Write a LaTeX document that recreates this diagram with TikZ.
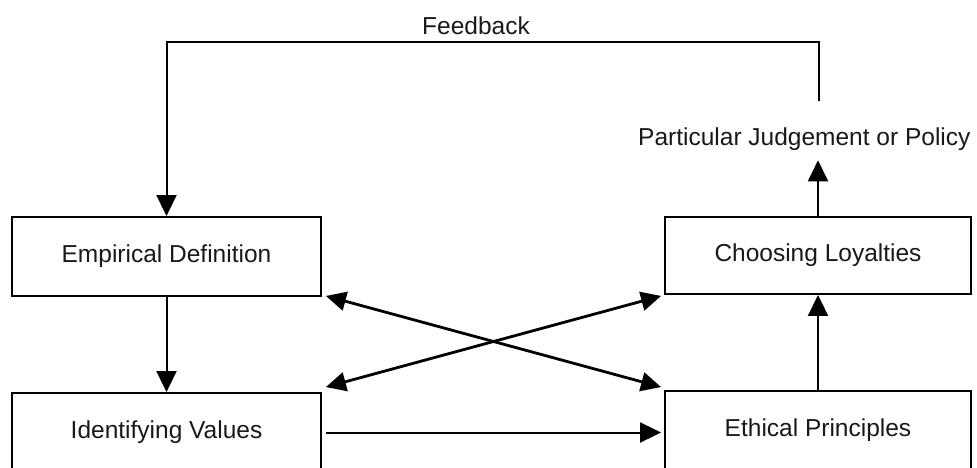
\documentclass[tikz,border=0pt]{standalone}
\usepackage{fontspec}
\setmainfont{Liberation Sans}
\usetikzlibrary{arrows.meta}
\begin{document}
\begin{tikzpicture}[x=1pt,y=-1pt,
  lbl/.style={font=\fontsize{24.5}{29}\selectfont, text=black!90},
  box/.style={draw, line width=1.9pt, inner sep=0pt, lbl},
  conn/.style={line width=2pt},
  tip/.style={-{Triangle[length=21pt,width=20pt]}},
  cross/.style={line width=2.8pt, {Triangle[length=20pt,width=19pt]}-{Triangle[length=20pt,width=19pt]}}]
\useasboundingbox (0,0) rectangle (977,468);
\node[box, minimum width=309pt, minimum height=79pt] (ed) at (166.5,256.5) {Empirical Definition};
\node[box, minimum width=309pt, minimum height=79pt] (iv) at (166.5,432.5) {Identifying Values};
\node[box, minimum width=306pt, minimum height=77pt] (cl) at (818,255.5) {Choosing Loyalties};
\node[box, minimum width=306pt, minimum height=79pt] (ep) at (818,430.5) {Ethical Principles};
\node[lbl, anchor=base west, inner sep=0pt] (pj) at (638,146) {Particular Judgement or Policy};
\node[lbl, anchor=base, inner sep=0pt] (fb) at (476,35) {Feedback};
\coordinate (fbstart) at (819,101);
\draw[conn, tip] (fbstart) -- ++(0,-59) -| (ed.north);
\draw[conn, tip] (ed.south) -- (iv.north);
\draw[conn, tip] (ep.north) -- (cl.south);
\draw[conn, tip, shorten >=9pt] (cl.north) -- (cl.north |- pj.south);
\draw[conn, tip, shorten <=4pt, shorten >=3pt] (iv.east) -- (iv.east -| ep.west);
\draw[cross] ([shift={(4,-1)}]ed.south east) -- ([shift={(-3,-3)}]ep.north west);
\draw[cross] ([shift={(-3,1)}]cl.south west) -- ([shift={(4,-5)}]iv.north east);
\end{tikzpicture}
\end{document}
